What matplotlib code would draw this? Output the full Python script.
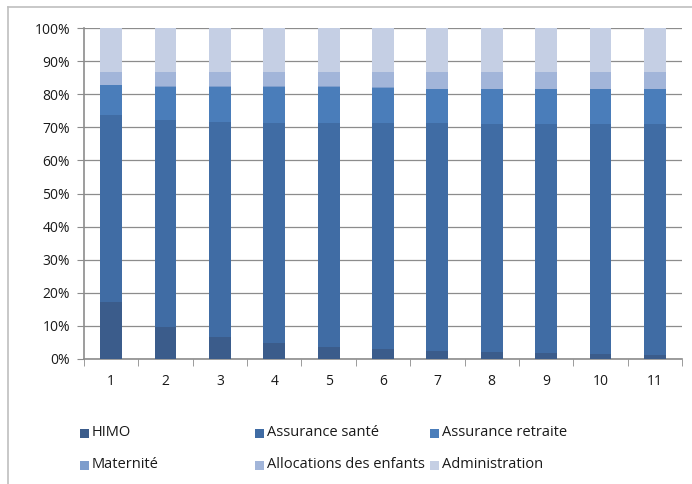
import matplotlib
matplotlib.use("Agg")
import matplotlib.pyplot as plt
from matplotlib.lines import Line2D
from matplotlib.patches import Rectangle
import numpy as np

plt.rcParams['font.family'] = ['Open Sans', 'DejaVu Sans']

# Share of each expense item per year (percent)
categories = ["1", "2", "3", "4", "5", "6", "7", "8", "9", "10", "11"]
series_names = ["HIMO", "Assurance santé", "Assurance retraite", "Maternité",
                "Allocations des enfants", "Administration"]
himo = [17.2, 9.6, 6.5, 4.8, 3.7, 3.0, 2.5, 2.1, 1.7, 1.5, 1.2]
sante = [56.6, 62.7, 65.0, 66.6, 67.5, 68.2, 68.7, 68.9, 69.3, 69.5, 69.8]
retraite = [8.9, 9.9, 10.7, 10.8, 11.0, 10.7, 10.3, 10.5, 10.5, 10.5, 10.5]
maternite = [0.2, 0.2, 0.2, 0.2, 0.2, 0.2, 0.2, 0.2, 0.2, 0.2, 0.2]
allocations = [3.9, 4.4, 4.4, 4.4, 4.4, 4.7, 5.1, 5.1, 5.1, 5.1, 5.1]
administration = [13.2, 13.2, 13.2, 13.2, 13.2, 13.2, 13.2, 13.2, 13.2, 13.2, 13.2]
y_ticks = [0, 10, 20, 30, 40, 50, 60, 70, 80, 90, 100]

colors = ["#3B5C8B", "#406CA4", "#4A7DBA", "#7E9DCC", "#A2B5D9", "#C5CFE4"]
series = [himo, sante, retraite, maternite, allocations, administration]

W, H = 692, 484
fig = plt.figure(figsize=(W / 100, H / 100), dpi=100)
ax = fig.add_axes([84 / W, 1 - 359 / H, (682 - 84) / W, (359 - 28) / H])

x = np.arange(len(categories))
bottom = np.zeros(len(categories))
for vals, col in zip(series, colors):
    vals = np.array(vals, dtype=float)
    ax.bar(x, vals, bottom=bottom, width=0.4, color=col, linewidth=0, zorder=3)
    bottom += vals

ax.set_xlim(-0.5, len(categories) - 0.5)
ax.set_ylim(0, 100)
ax.set_yticks(y_ticks)
ax.set_yticklabels([f"{t}%" for t in y_ticks])
ax.set_xticks(x)
ax.set_xticklabels(categories)
ax.set_xticks(np.arange(len(categories) + 1) - 0.5, minor=True)

ax.yaxis.grid(True, color="#8C8C8C", linewidth=0.9, zorder=0)
ax.set_axisbelow(True)
for s in ["top", "right"]:
    ax.spines[s].set_visible(False)
for s in ["left", "bottom"]:
    ax.spines[s].set_color("#8C8C8C")
    ax.spines[s].set_linewidth(1.2)

ax.tick_params(axis="y", length=5, color="#8C8C8C", labelsize=10, labelcolor="#1A1A1A", pad=5)
ax.tick_params(axis="x", which="major", length=0, labelsize=10, labelcolor="#1A1A1A", pad=11)
ax.tick_params(axis="x", which="minor", length=5, color="#8C8C8C")

# Legend: two rows of three entries, filled row by row
col_x = [80, 255, 430]
row_y = [433, 465]
sq = 9
for i, (name, col) in enumerate(zip(series_names, colors)):
    cx = col_x[i % 3]
    cy = row_y[i // 3]
    fig.add_artist(Rectangle((cx / W, 1 - (cy + sq / 2) / H), sq / W, sq / H,
                             transform=fig.transFigure, facecolor=col, edgecolor="none"))
    fig.text((cx + sq + 3) / W, 1 - cy / H, name, ha="left", va="center",
             fontsize=10.5, color="#1A1A1A")

# Chart frame
fig.add_artist(Line2D([8 / W, 8 / W], [0, 1 - 7 / H], transform=fig.transFigure,
                      color="#BFBFBF", linewidth=1.2))
fig.add_artist(Line2D([8 / W, 1], [1 - 7 / H, 1 - 7 / H], transform=fig.transFigure,
                      color="#BFBFBF", linewidth=1.2))

fig.savefig("out.png", dpi=100)
